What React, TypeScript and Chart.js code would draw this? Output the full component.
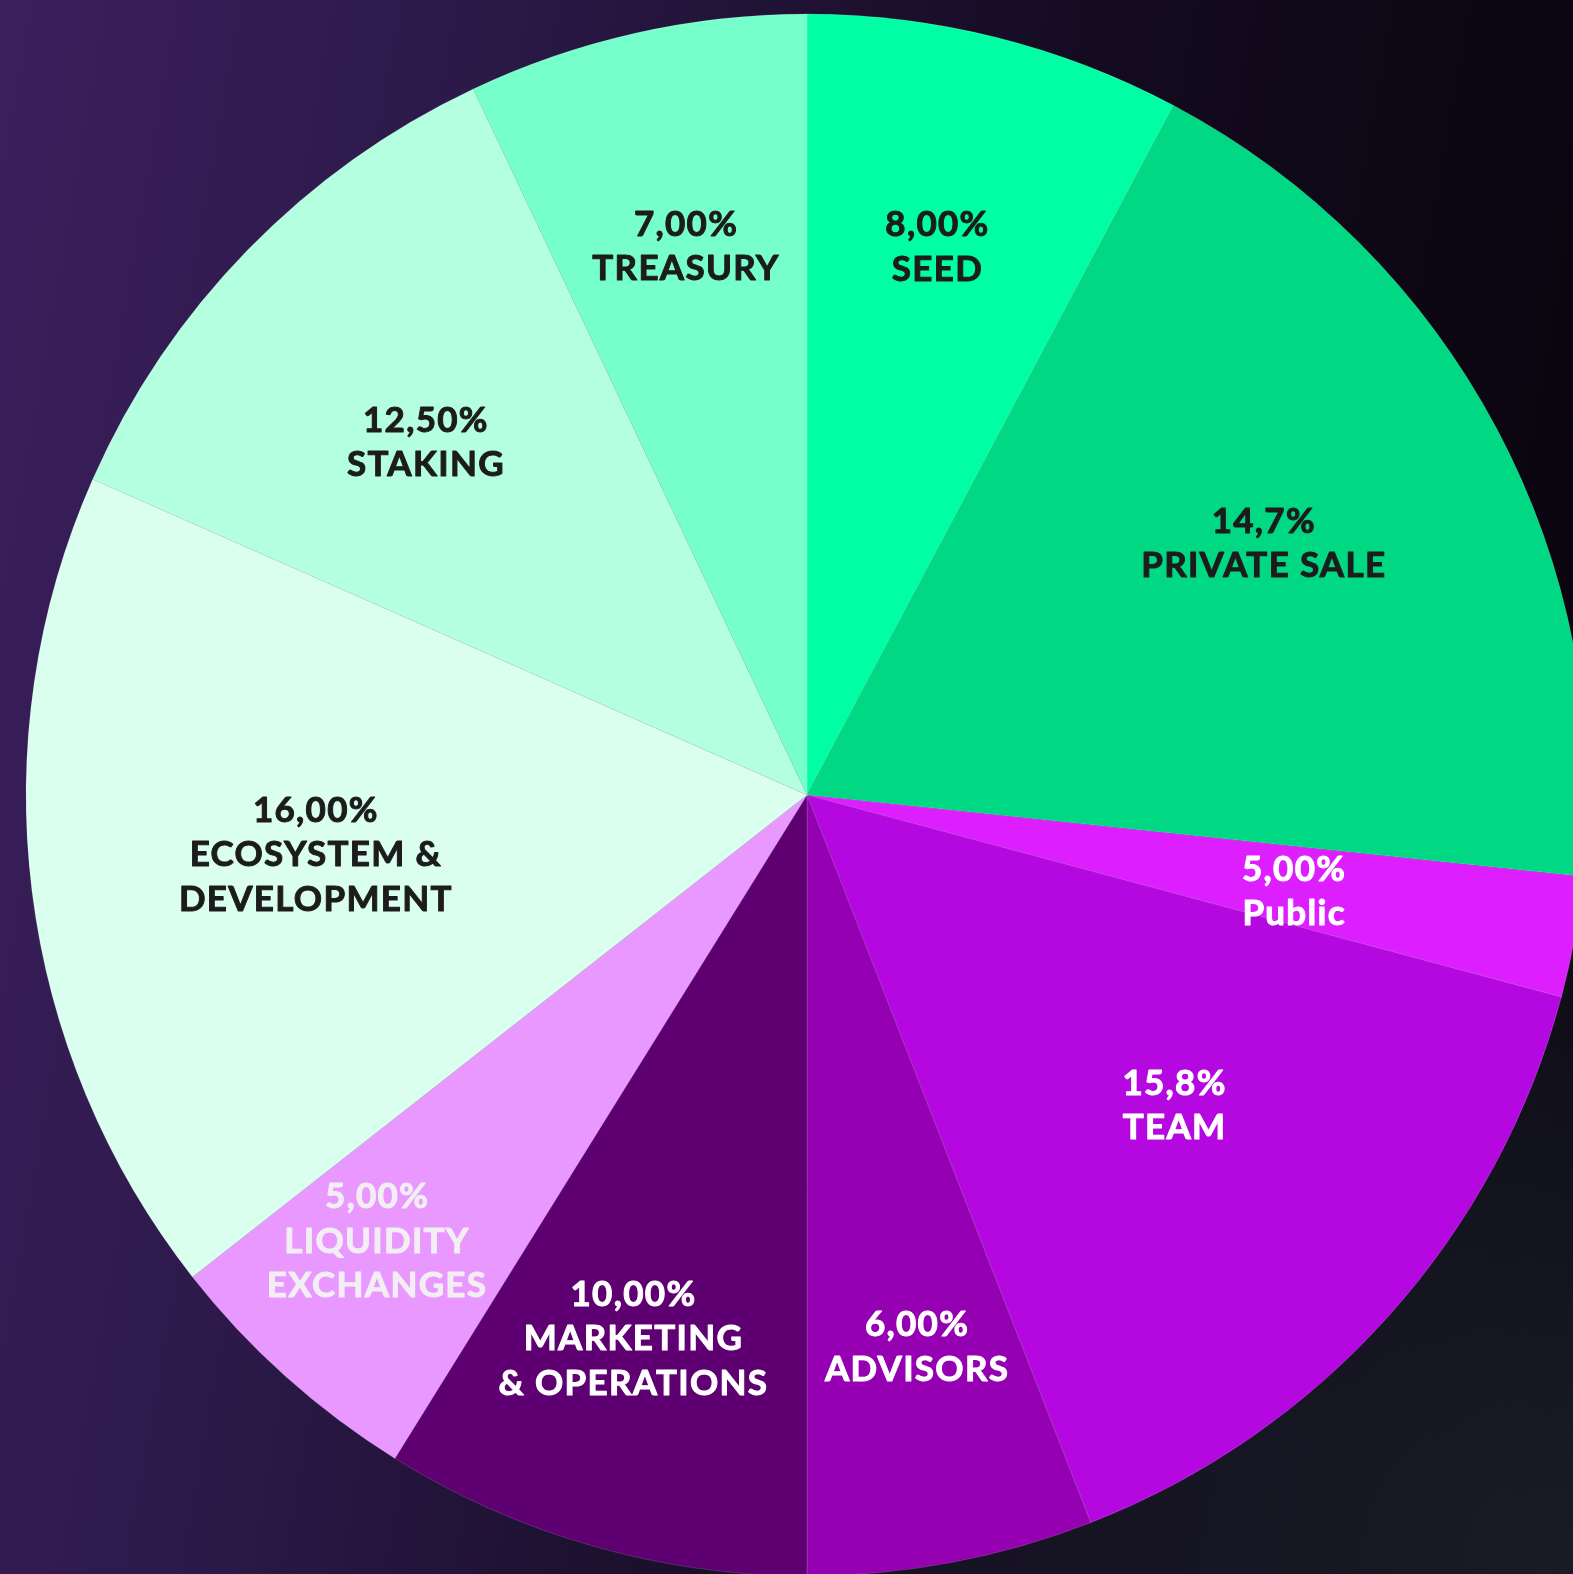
import React, { useEffect, useRef } from "react";
import { Chart, registerables } from "chart.js";

Chart.register(...registerables);

// Slice names and the percentages printed on them
const categories = ["SEED", "PRIVATE SALE", "Public", "TEAM", "ADVISORS", "MARKETING\n& OPERATIONS", "LIQUIDITY\nEXCHANGES", "ECOSYSTEM &\nDEVELOPMENT", "STAKING", "TREASURY"];
const percentLabels = ["8,00%", "14,7%", "5,00%", "15,8%", "6,00%", "10,00%", "5,00%", "16,00%", "12,50%", "7,00%"];
// Angular share of each slice as drawn in the picture (degrees of the circle)
const sliceDegrees = [28, 68, 9, 53.7, 21.3, 31.85, 20.05, 61.95, 40.85, 25.3];

const sliceColors = ["#00FFA4", "#00D884", "#DD1FFF", "#B508E0", "#9400B2", "#5F0072", "#E898FF", "#DAFFEE", "#B3FFE0", "#77FFCB"];
const textColors = ["#1c1c1c", "#1c1c1c", "#ffffff", "#ffffff", "#ffffff", "#ffffff", "#f3eef3", "#1c1c1c", "#1c1c1c", "#1c1c1c"];
// label placement: [fraction of radius, angle offset in degrees from slice middle]
const labelPlacement: [number, number][] = [
  [0.726, -0.7], [0.67, -1.2], [0.635, 0.3], [0.613, -2.0], [0.716, -0.7],
  [0.726, 1.9], [0.79, 2.3], [0.633, 0.6], [0.668, -1.2], [0.724, 0.3],
];

const labelPlugin = {
  id: "sliceLabels",
  afterDatasetsDraw(chart: any) {
    const ctx = chart.ctx;
    const meta = chart.getDatasetMeta(0);
    ctx.save();
    ctx.font = "bold 35px Lato, 'Noto Sans', sans-serif";
    try { (ctx as any).letterSpacing = "1.3px"; } catch (e) {}
    ctx.textAlign = "center";
    ctx.textBaseline = "middle";
    ctx.lineJoin = "round";
    ctx.lineWidth = 1;
    const lineH = 44.5;
    meta.data.forEach((arc: any, i: number) => {
      const { startAngle, endAngle, x, y, outerRadius } = arc.getProps(["startAngle", "endAngle", "x", "y", "outerRadius"], true);
      const [frac, off] = labelPlacement[i];
      const a = (startAngle + endAngle) / 2 + (off * Math.PI) / 180;
      const cx = x + Math.cos(a) * outerRadius * frac;
      const cy = y + Math.sin(a) * outerRadius * frac + 4;
      const lines = [percentLabels[i], ...categories[i].split("\n")];
      const top = cy - ((lines.length - 1) * lineH) / 2;
      ctx.fillStyle = textColors[i];
      ctx.strokeStyle = textColors[i];
      lines.forEach((t, k) => {
        ctx.fillText(t, cx, top + k * lineH);
        ctx.strokeText(t, cx, top + k * lineH);
      });
    });
    ctx.restore();
  },
};

export default function App() {
  const ref = useRef<HTMLCanvasElement | null>(null);
  useEffect(() => {
    if (!ref.current) return;
    const chart = new Chart(ref.current, {
      type: "pie",
      data: {
        labels: categories,
        datasets: [
          {
            data: sliceDegrees,
            backgroundColor: sliceColors,
            borderColor: "rgba(255,255,255,0.14)",
            borderWidth: 1,
            hoverOffset: 0,
            radius: 781,
          } as any,
        ],
      },
      options: {
        animation: false,
        responsive: false,
        maintainAspectRatio: false,
        devicePixelRatio: 1,
        layout: { padding: { left: 26, right: 26, top: 14, bottom: 14 } },
        plugins: { legend: { display: false }, tooltip: { enabled: false } },
      },
      plugins: [labelPlugin],
    });
    return () => chart.destroy();
  }, []);
  return (
    <div
      style={{
        position: "fixed",
        left: 0,
        top: 0,
        width: 1573,
        height: 1574,
        overflow: "hidden",
        background:
          "radial-gradient(ellipse at 100% 100%, rgba(40,48,64,0.55) 0%, rgba(20,22,30,0) 45%), linear-gradient(100deg, #3c1f5e 0%, #2c1949 25%, #140b20 60%, #060308 100%)",
      }}
    >
      <canvas ref={ref} width={1614} height={1590} style={{ display: "block" }} />
    </div>
  );
}
